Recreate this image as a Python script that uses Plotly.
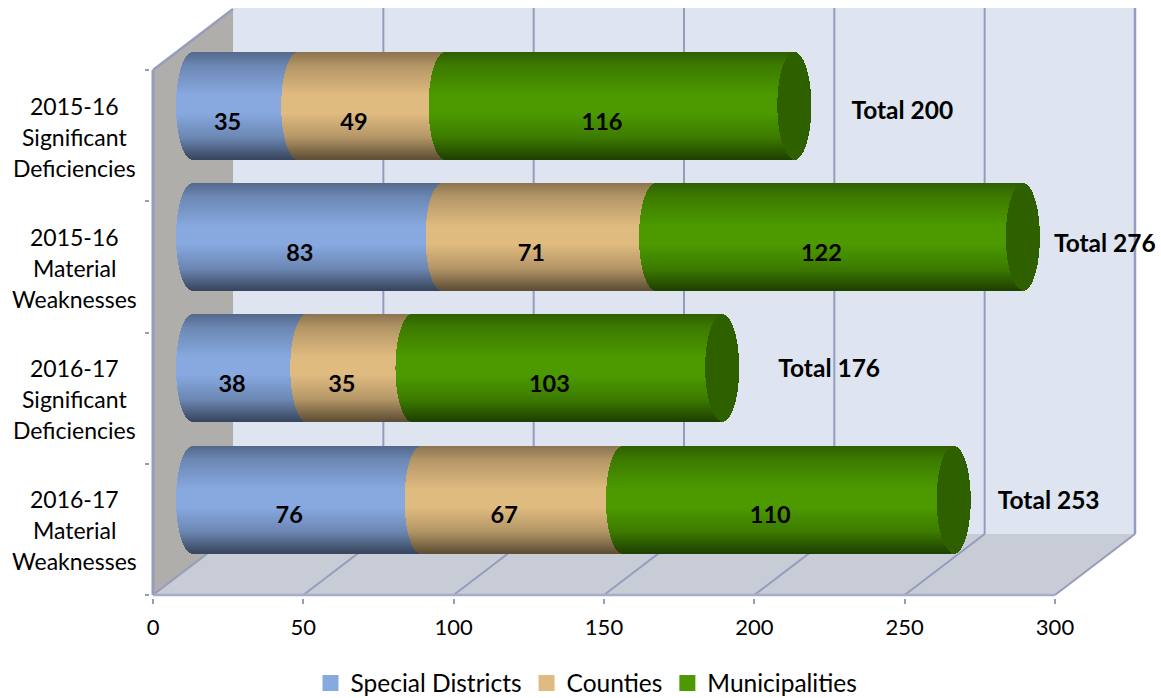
import numpy as np
import plotly.graph_objects as go

# ---- data (top to bottom) ----
categories = [["2015-16", "Significant", "Deficiencies"],
              ["2015-16", "Material", "Weaknesses"],
              ["2016-17", "Significant", "Deficiencies"],
              ["2016-17", "Material", "Weaknesses"]]
special_districts = [35, 83, 38, 76]
counties = [49, 71, 35, 67]
municipalities = [116, 122, 103, 110]
x_ticks = [0, 50, 100, 150, 200, 250, 300]

# ---- geometry in pixels of the reference, converted to axis units ----
PX_X = 902 / 300          # px per x unit
PX_Y = 131.25             # px per category
L, R, T, B = 153, 1135, 8, 595
PAD_L, PAD_R, PAD_B = 3 , 2, 3   # room so that edge lines are not clipped
DEPTH_X = 80 / PX_X
DEPTH_Y = 61 / PX_Y
MID_X = 40 / PX_X         # bars sit mid-depth
MID_Y = 30 / PX_Y
CAP_A = 17 / PX_X         # half width of cylinder end ellipse
HALF_H = 53.5 / PX_Y
ROWS = 107
LABEL_DX = -18 / PX_X
LABEL_DY = -18 / PX_Y
TOTAL_DX = [108 / PX_X, 82 / PX_X, 107 / PX_X, 95 / PX_X]
TOTAL_DY = [-7 / PX_Y, -9 / PX_Y, -3 / PX_Y, -3 / PX_Y]
FONT = "Lato, 'Open Sans', sans-serif"
XMAX = (R - L) / PX_X
YMAX = (B - T) / PX_Y

BLUE, TAN, GREEN, CAP = (135, 169, 224), (224, 187, 128), (76, 154, 0), (47, 96, 0)
GRID = "#969cbc"

def shade(rgb, t):
    f = np.interp(t, [-1, -0.75, -0.2, 0.15, 0.6, 1], [0.62, 0.80, 1.0, 1.0, 0.80, 0.42])
    return "rgb(%d,%d,%d)" % tuple(int(c * f) for c in rgb)

n = len(categories)
centres = [n - 0.5 - i + MID_Y for i in range(n)]
ts = (np.arange(ROWS) + 0.5) / ROWS * 2 - 1
ss = np.sqrt(1 - ts ** 2)
strip_w = 1.5 / PX_Y

def series_trace(name, rgb, starts, ends, end_cap=False):
    swatch = "rgb(%d,%d,%d)" % rgb
    ys, bases, lens, cols = [centres[0]], [0], [None], [swatch]
    lw = [4]
    lc = [swatch]
    for yc, a, b in zip(centres, starts, ends):
        for t, s in zip(ts, ss):
            ys.append(yc - t * HALF_H)
            bases.append(MID_X + a - CAP_A * s)
            lens.append(b - a)
            cols.append(shade(rgb, t))
            lw.append(0)
            lc.append(swatch)
            if end_cap:
                ys.append(yc - t * HALF_H)
                bases.append(MID_X + b - CAP_A * s)
                lens.append(2 * CAP_A * s)
                cols.append("rgb(%d,%d,%d)" % CAP)
                lw.append(0)
                lc.append(swatch)
    return go.Bar(name=name, orientation="h", y=ys, x=lens, base=bases, width=strip_w,
                  marker=dict(color=cols, line=dict(width=lw, color=lc)), hoverinfo="skip")

s1 = np.array(special_districts)
s2 = s1 + np.array(counties)
s3 = s2 + np.array(municipalities)

fig = go.Figure()
fig.add_trace(series_trace("Special Districts", BLUE, [0] * n, list(s1)))
fig.add_trace(series_trace("Counties", TAN, list(s1), list(s2)))
fig.add_trace(series_trace("Municipalities", GREEN, list(s2), list(s3), end_cap=True))

# value labels
lx, ly, lt = [], [], []
for vals, a in ((special_districts, [0] * n), (counties, s1), (municipalities, s2)):
    for v, st, yc in zip(vals, a, centres):
        lx.append(MID_X + LABEL_DX + st + v / 2)
        ly.append(yc + LABEL_DY)
        lt.append("<b>%d</b>" % v)
fig.add_trace(go.Scatter(x=lx, y=ly, text=lt, mode="text", showlegend=False, hoverinfo="skip",
                         textposition="middle center", cliponaxis=False,
                         textfont=dict(family=FONT, size=23.5, color="black")))
# totals
fig.add_trace(go.Scatter(x=[MID_X + t + d for t, d in zip(s3, TOTAL_DX)],
                         y=[yc + d for yc, d in zip(centres, TOTAL_DY)],
                         text=["<b>Total %d</b>" % t for t in s3], mode="text", showlegend=False,
                         hoverinfo="skip", textposition="middle center", cliponaxis=False,
                         textfont=dict(family=FONT, size=24.5, color="black")))

# walls
def poly(pts, fill, line=None, w=0):
    path = "M" + " L".join("%f,%f" % p for p in pts) + " Z"
    return dict(type="path", path=path, xref="x", yref="y", fillcolor=fill, layer="below",
                line=dict(color=line or fill, width=w))

def seg(x0, y0, x1, y1, w=2, color=GRID):
    return dict(type="line", x0=x0, y0=y0, x1=x1, y1=y1, xref="x", yref="y", layer="below",
                line=dict(color=color, width=w))

shapes = [
    poly([(DEPTH_X, DEPTH_Y), (DEPTH_X + 300, DEPTH_Y), (DEPTH_X + 300, YMAX), (DEPTH_X, YMAX)], "#dee5f0"),
    poly([(0, 0), (300, 0), (DEPTH_X + 300, DEPTH_Y), (DEPTH_X, DEPTH_Y)], "#c7ccd6"),
    poly([(0, 0), (0, n), (DEPTH_X, n + DEPTH_Y), (DEPTH_X, DEPTH_Y)], "#b0aeaa"),
]
for v in x_ticks:
    shapes.append(seg(v, 0, v + DEPTH_X, DEPTH_Y))
    if v > 0:
        shapes.append(seg(v + DEPTH_X, DEPTH_Y, v + DEPTH_X, YMAX, w=2.5 if v == 300 else 2))
shapes.append(seg(0, 0, 300, 0, w=2.5, color="#a9acc8"))
shapes.append(seg(0, 0, 0, n, w=3))
shapes.append(seg(0, n, DEPTH_X, n + DEPTH_Y, w=2.5))
fig.update_layout(shapes=shapes)

left_px = L - PAD_L
width_px = R + PAD_R - left_px

# category labels, one annotation per line to keep the 31 px leading
for i, lines in enumerate(categories):
    for j, txt in enumerate(lines):
        fig.add_annotation(x=(74 - left_px) / width_px, y=n - 0.5 - i, xref="paper", yref="y", text=txt,
                           showarrow=False, xanchor="center", yanchor="middle", yshift=(1 - j) * 31 - 1,
                           font=dict(family=FONT, size=23, color="black"))

fig.update_layout(
    width=1161, height=698, barmode="overlay", bargap=0,
    margin=dict(l=left_px, r=1161 - R - PAD_R, t=T, b=698 - B - PAD_B, pad=0, autoexpand=False),
    paper_bgcolor="white", plot_bgcolor="white", font=dict(family=FONT, color="black"),
    xaxis=dict(range=[-PAD_L / PX_X, XMAX + PAD_R / PX_X], tickvals=x_ticks, ticktext=[str(v) for v in x_ticks],
               ticks="outside", ticklen=5, tickwidth=2, tickcolor=GRID, showgrid=False, zeroline=False,
               showline=False, ticklabelstandoff=5,
               tickfont=dict(family=FONT, size=22, color="black"), fixedrange=True),
    yaxis=dict(range=[-PAD_B / PX_Y, YMAX], tickvals=list(range(n + 1)), ticks="outside", ticklen=4, tickwidth=2,
               tickcolor=GRID, showticklabels=False, showgrid=False, zeroline=False, showline=False,
               fixedrange=True),
    legend=dict(orientation="h", x=(586.5 - left_px) / width_px, xanchor="center",
                y=-(683 - 598) / (598 - T), yanchor="middle", font=dict(family=FONT, size=24.5, color="black"),
                bgcolor="rgba(0,0,0,0)", traceorder="normal"),
)

fig.write_html("out.html", config=dict(displayModeBar=False), post_script="document.body.style.margin='0';")
